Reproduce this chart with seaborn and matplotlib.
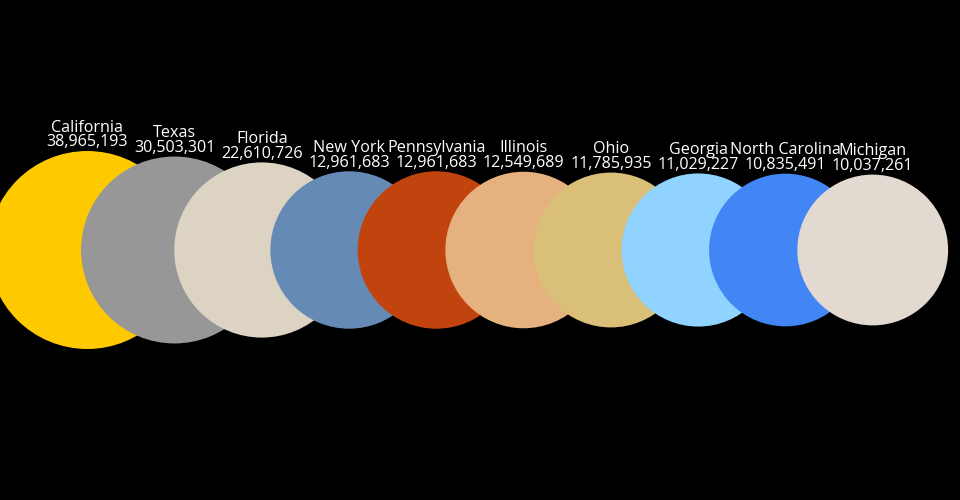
import numpy as np
import pandas as pd
import matplotlib
matplotlib.use("Agg")
import matplotlib.pyplot as plt
import seaborn as sns

states = ["California", "Texas", "Florida", "New York", "Pennsylvania",
          "Illinois", "Ohio", "Georgia", "North Carolina", "Michigan"]
population = [38965193, 30503301, 22610726, 12961683, 12961683,
              12549689, 11785935, 11029227, 10835491, 10037261]
colors = ["#FFC900", "#979797", "#DCD3C3", "#658AB6", "#C1440E",
          "#E5B17F", "#D9BF78", "#8FD3FE", "#4285F4", "#E2DAD0"]

RADIUS_RANGE = (75.4, 99.0)   # px, sqrt scale
DPI = 100

sns.set_theme(style="white")
plt.rcParams['font.family'] = ['Open Sans', 'DejaVu Sans']

df = pd.DataFrame({"state": states, "pop": population})
df["pos"] = np.arange(1, len(df) + 1)
df["y"] = 250.0
sq = np.sqrt(df["pop"].astype(float))
r = RADIUS_RANGE[0] + (RADIUS_RANGE[1] - RADIUS_RANGE[0]) * (sq - sq.min()) / (sq.max() - sq.min())
df["r"] = r
px2pt = 72.0 / DPI
sizes = (2 * r * px2pt) ** 2

fig = plt.figure(figsize=(9.6, 5.0), dpi=DPI, facecolor="black")
ax = fig.add_axes([0, 0, 1, 1])
ax.set_facecolor("black")

sns.scatterplot(data=df, x="pos", y="y", hue="state", palette=colors,
                s=sizes.values, linewidth=0, alpha=1, legend=False, ax=ax)

ax.set_xlim(0, 11)
ax.set_ylim(500, 0)
ax.axis("off")

for _, row in df.iterrows():
    top = row["y"] - row["r"]
    ax.text(row["pos"], top - 4.5, f"{row['pop']:,}", ha="center", va="baseline",
            color="white", fontsize=11.6)
    ax.text(row["pos"], top - 19.5, row["state"], ha="center", va="baseline",
            color="white", fontsize=11.6)

fig.savefig("out.png", dpi=DPI, facecolor="black")
